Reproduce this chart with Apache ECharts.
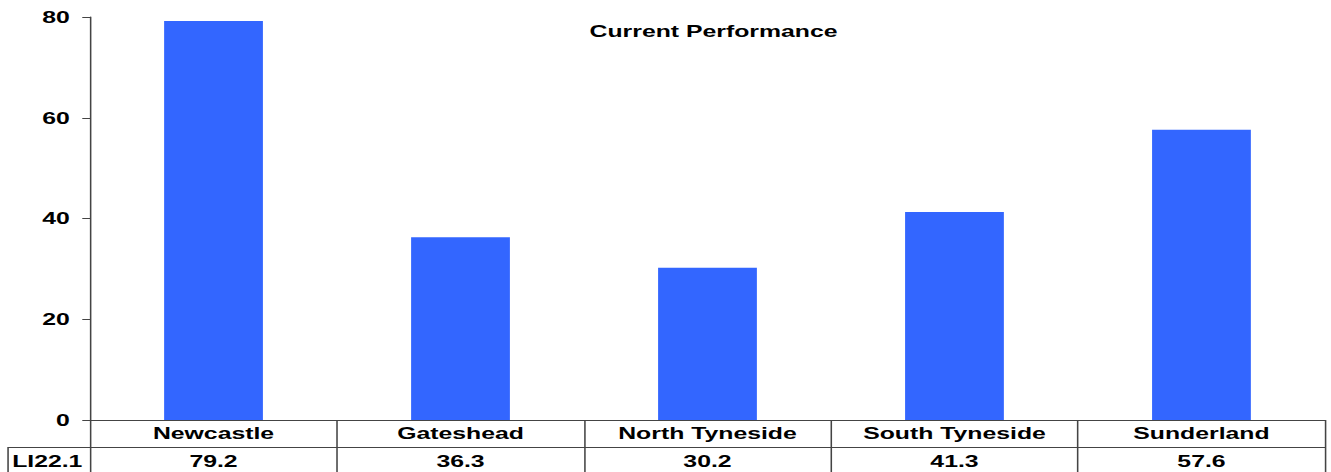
<!DOCTYPE html>
<html>
<head>
<meta charset="utf-8">
<script src="https://cdn.jsdelivr.net/npm/echarts@6/dist/echarts.min.js"></script>
<style>
  html, body { margin: 0; padding: 0; background: #fff; overflow: hidden; }
  /* The chart is laid out in a narrower box and stretched horizontally,
     giving the wide, bold lettering of the original spreadsheet chart. */
  #chart { width: 859px; height: 472px; transform-origin: 0 0; }
</style>
</head>
<body>
<div id="chart"></div>
<script>
const categories = ['Newcastle', 'Gateshead', 'North Tyneside', 'South Tyneside', 'Sunderland'];
const li221Values = [79.2, 36.3, 30.2, 41.3, 57.6];
const yTicks = { min: 0, max: 80, interval: 20 };
const rowLabel = 'LI22.1';
const chartTitle = 'Current Performance';

const stretch = 1331 / 859;
const el = document.getElementById('chart');
el.style.transform = 'scaleX(' + stretch + ')';

const font = '"Liberation Sans", Arial, sans-serif';
const lineColor = '#444';
const txt = { color: '#000', fontFamily: font, fontWeight: 'bold', fontSize: 16 };

const chart = echarts.init(el, null, { renderer: 'svg' });
chart.setOption({
  animation: false,
  title: {
    text: chartTitle,
    left: 455.5,
    textAlign: 'center',
    top: 18,
    textStyle: Object.assign({}, txt, { fontSize: 16 })
  },
  grid: { left: 58.1, right: 3.9, top: 17, bottom: 52 },
  yAxis: {
    type: 'value',
    min: yTicks.min, max: yTicks.max, interval: yTicks.interval,
    axisLine: { show: true, lineStyle: { color: lineColor, width: 1 } },
    axisTick: { show: true, length: 5, lineStyle: { color: lineColor } },
    splitLine: { show: false },
    axisLabel: Object.assign({ margin: 13 }, txt)
  },
  xAxis: [
    {
      type: 'category',
      data: categories,
      position: 'bottom',
      axisLine: { show: true, lineStyle: { color: lineColor, width: 1 } },
      axisTick: { show: true, length: 27, interval: 0, lineStyle: { color: lineColor } },
      axisLabel: Object.assign({ margin: 13.5, verticalAlign: 'middle', interval: 0 }, txt)
    },
    {
      // data-table row underneath the category names
      type: 'category',
      data: categories,
      position: 'bottom',
      offset: 27,
      axisLine: { show: true, lineStyle: { color: lineColor, width: 1 } },
      axisTick: { show: true, length: 30, interval: 0, lineStyle: { color: lineColor } },
      axisLabel: Object.assign({
        margin: 14.5, verticalAlign: 'middle', interval: 0,
        formatter: (v, i) => li221Values[i].toFixed(1)
      }, txt)
    }
  ],
  graphic: [
    {
      type: 'polyline',
      shape: { points: [[58.1, 447.5], [5.2, 447.5], [5.2, 480]] },
      style: { stroke: lineColor, lineWidth: 1, fill: null }
    },
    {
      type: 'text',
      x: 30.5, y: 461.5,
      style: Object.assign({ text: rowLabel, align: 'center', verticalAlign: 'middle' },
        { fill: '#000', font: 'bold 16px ' + font })
    }
  ],
  series: [{
    type: 'bar',
    data: li221Values,
    xAxisIndex: 0,
    barWidth: '40%',
    itemStyle: { color: '#3366FF' }
  }]
});
</script>
</body>
</html>
